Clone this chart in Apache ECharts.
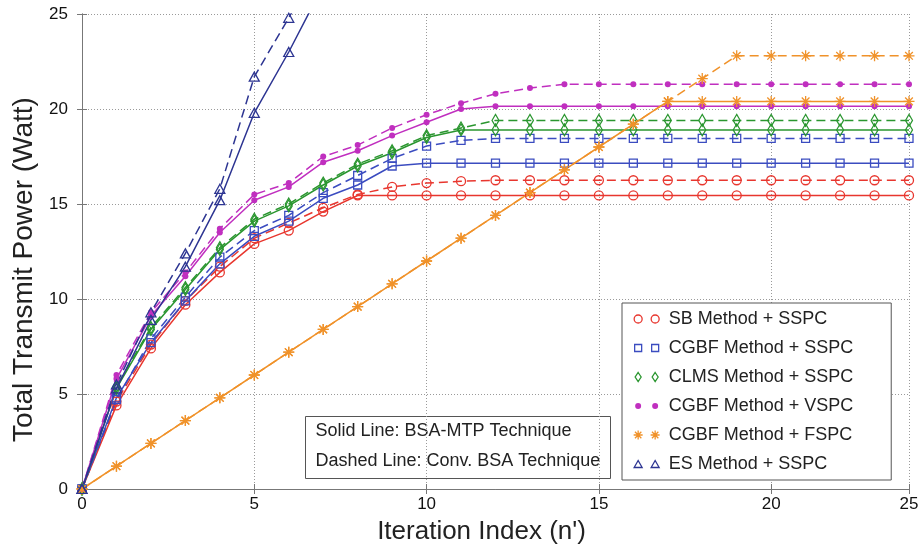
<!DOCTYPE html>
<html lang="en">
<head>
<meta charset="UTF-8" />
<title>Total Transmit Power vs Iteration</title>
</head>
<body>
<style>
* {
  margin: 0;
  padding: 0;
}
#chartEl {
  width: 924px;
  height: 556px;
  background-color: #fff;
}
</style>
<div id="chartEl"></div>
<script src="https://cdn.jsdelivr.net/npm/echarts@6/dist/echarts.min.js"></script>
<script>
// iteration index n'
const iterations = [0, 1, 2, 3, 4, 5, 6, 7, 8, 9, 10, 11, 12, 13, 14, 15, 16, 17, 18, 19, 20, 21, 22, 23, 24];

// solid = BSA-MTP technique, dashed = conventional BSA
const sbSolid = [0, 4.4, 7.4, 9.7, 11.4, 12.9, 13.6, 14.6, 15.45, 15.45, 15.45, 15.45, 15.45, 15.45, 15.45, 15.45, 15.45, 15.45, 15.45, 15.45, 15.45, 15.45, 15.45, 15.45, 15.45];
const sbDashed = [0, 4.6, 7.6, 9.9, 11.7, 13.2, 14.0, 14.8, 15.5, 15.9, 16.1, 16.2, 16.25, 16.25, 16.25, 16.25, 16.25, 16.25, 16.25, 16.25, 16.25, 16.25, 16.25, 16.25, 16.25];
const cgbfSolid = [0, 4.8, 7.7, 9.9, 11.85, 13.3, 14.1, 15.3, 16.0, 17.0, 17.15, 17.15, 17.15, 17.15, 17.15, 17.15, 17.15, 17.15, 17.15, 17.15, 17.15, 17.15, 17.15, 17.15, 17.15];
const cgbfDashed = [0, 4.7, 7.9, 10.1, 12.2, 13.6, 14.4, 15.6, 16.5, 17.4, 18.05, 18.35, 18.45, 18.45, 18.45, 18.45, 18.45, 18.45, 18.45, 18.45, 18.45, 18.45, 18.45, 18.45, 18.45];
const clmsSolid = [0, 5.3, 8.4, 10.5, 12.6, 14.1, 14.9, 16.0, 17.0, 17.7, 18.5, 18.9, 18.9, 18.9, 18.9, 18.9, 18.9, 18.9, 18.9, 18.9, 18.9, 18.9, 18.9, 18.9, 18.9];
const clmsDashed = [0, 5.4, 8.5, 10.6, 12.7, 14.2, 15.0, 16.1, 17.1, 17.8, 18.6, 19.0, 19.4, 19.4, 19.4, 19.4, 19.4, 19.4, 19.4, 19.4, 19.4, 19.4, 19.4, 19.4, 19.4];
const vspcSolid = [0, 5.8, 9.1, 11.2, 13.5, 15.2, 15.9, 17.2, 17.8, 18.6, 19.3, 20.0, 20.15, 20.15, 20.15, 20.15, 20.15, 20.15, 20.15, 20.15, 20.15, 20.15, 20.15, 20.15, 20.15];
const vspcDashed = [0, 6.0, 9.3, 11.4, 13.7, 15.5, 16.1, 17.5, 18.1, 19.0, 19.7, 20.3, 20.8, 21.1, 21.3, 21.3, 21.3, 21.3, 21.3, 21.3, 21.3, 21.3, 21.3, 21.3, 21.3];
const fspcSolid = [0, 1.2, 2.4, 3.6, 4.8, 6.0, 7.2, 8.4, 9.6, 10.8, 12.0, 13.2, 14.4, 15.6, 16.8, 18.0, 19.2, 20.4, 20.4, 20.4, 20.4, 20.4, 20.4, 20.4, 20.4];
const fspcDashed = [0, 1.2, 2.4, 3.6, 4.8, 6.0, 7.2, 8.4, 9.6, 10.8, 12.0, 13.2, 14.4, 15.6, 16.8, 18.0, 19.2, 20.4, 21.6, 22.8, 22.8, 22.8, 22.8, 22.8, 22.8];
const esSolid = [0, 5.3, 8.9, 11.7, 15.2, 19.8, 23.0, 26.5];
const esDashed = [0, 5.5, 9.3, 12.4, 15.8, 21.7, 24.8, 28.0];

const xTicks = [0, 5, 10, 15, 20, 25];
const yTicks = [0, 5, 10, 15, 20, 25];

const notes = ['Solid Line: BSA-MTP Technique', 'Dashed Line: Conv. BSA Technique'];

const FONT = '"Liberation Sans", Arial, sans-serif';
const STAR = 'path://M5 0L5 10M0 5L10 5M1.5 1.5L8.5 8.5M1.5 8.5L8.5 1.5';
const FRAME = 'M0 0M26 9';

const methods = [
  {
    name: 'SB Method + SSPC', color: '#e8362e', solid: sbSolid, dashed: sbDashed,
    symbol: 'circle', size: 9, hollow: true,
    icon: 'path://' + FRAME + 'M0.5 4.5A4 4 0 1 0 8.5 4.5A4 4 0 1 0 0.5 4.5ZM17.5 4.5A4 4 0 1 0 25.5 4.5A4 4 0 1 0 17.5 4.5Z'
  },
  {
    name: 'CGBF Method + SSPC', color: '#3b4cc0', solid: cgbfSolid, dashed: cgbfDashed,
    symbol: 'rect', size: 8, hollow: true,
    icon: 'path://' + FRAME + 'M1 1L8 1L8 8L1 8ZM18 1L25 1L25 8L18 8Z'
  },
  {
    name: 'CLMS Method + SSPC', color: '#2a962f', solid: clmsSolid, dashed: clmsDashed,
    symbol: 'diamond', size: [7, 12], hollow: true,
    icon: 'path://' + FRAME + 'M4.5 0L7.5 4.5L4.5 9L1.5 4.5ZM21.5 0L24.5 4.5L21.5 9L18.5 4.5Z'
  },
  {
    name: 'CGBF Method + VSPC', color: '#c02fbf', solid: vspcSolid, dashed: vspcDashed,
    symbol: 'circle', size: 6, hollow: false,
    icon: 'path://' + FRAME + 'M1.5 4.5A3 3 0 1 0 7.5 4.5A3 3 0 1 0 1.5 4.5ZM18.5 4.5A3 3 0 1 0 24.5 4.5A3 3 0 1 0 18.5 4.5Z'
  },
  {
    name: 'CGBF Method + FSPC', color: '#f0922a', solid: fspcSolid, dashed: fspcDashed,
    symbol: STAR, size: 11, hollow: true,
    icon: 'path://' + FRAME + 'M4.5 0L4.5 9M0 4.5L9 4.5M1.3 1.3L7.7 7.7M1.3 7.7L7.7 1.3M21.5 0L21.5 9M17 4.5L26 4.5M18.3 1.3L24.7 7.7M18.3 7.7L24.7 1.3'
  },
  {
    name: 'ES Method + SSPC', color: '#2d3592', solid: esSolid, dashed: esDashed,
    symbol: 'triangle', size: [10, 9], hollow: true,
    icon: 'path://' + FRAME + 'M4.5 1L8.5 8L0.5 8ZM21.5 1L25.5 8L17.5 8Z'
  }
];

function toPoints(values) {
  return values.map(function (v, i) {
    return [iterations[i], v];
  });
}

const series = [];
methods.forEach(function (m) {
  [['solid', m.solid], [[9, 5], m.dashed]].forEach(function (pair) {
    series.push({
      type: 'line',
      name: m.name,
      data: toPoints(pair[1]),
      symbol: m.symbol,
      symbolSize: m.size,
      clip: true,
      lineStyle: { color: m.color, width: 1.5, type: pair[0] },
      itemStyle: m.hollow
        ? { color: 'rgba(0,0,0,0)', borderColor: m.color, borderWidth: 1.3 }
        : { color: m.color, borderWidth: 0 },
      emphasis: { disabled: true },
      animation: false
    });
  });
});

const chart = echarts.init(document.getElementById('chartEl'));

const axisCommon = {
  type: 'value',
  axisLine: { show: true, lineStyle: { color: '#777', width: 1 } },
  axisTick: { show: true, inside: true, length: 5, lineStyle: { color: '#777' } }
};

chart.setOption({
  backgroundColor: '#fff',
  animation: false,
  textStyle: { fontFamily: FONT },
  grid: { left: 82, right: 15, top: 14, bottom: 67, containLabel: false },
  xAxis: [
    Object.assign({}, axisCommon, {
      position: 'bottom',
      min: xTicks[0],
      max: iterations[iterations.length - 1],
      interval: 5,
      name: "Iteration Index (n')",
      nameLocation: 'middle',
      nameGap: 30,
      nameTextStyle: { fontSize: 26, color: '#222', fontFamily: FONT, padding: [0, 28, 0, 0] },
      axisLabel: {
        margin: 7,
        fontSize: 17,
        color: '#111',
        fontFamily: FONT,
        formatter: function (v) {
          return v === iterations[iterations.length - 1] ? String(xTicks[xTicks.length - 1]) : String(v);
        }
      },
      splitLine: { show: true, lineStyle: { color: '#9a9a9a', type: [1, 2], width: 1 } }
    }),
    Object.assign({}, axisCommon, {
      position: 'top',
      min: xTicks[0],
      max: iterations[iterations.length - 1],
      interval: 5,
      axisLabel: { show: false },
      splitLine: { show: false }
    })
  ],
  yAxis: [
    Object.assign({}, axisCommon, {
      position: 'left',
      min: yTicks[0],
      max: yTicks[yTicks.length - 1],
      interval: 5,
      name: 'Total Transmit Power (Watt)',
      nameLocation: 'middle',
      nameGap: 42,
      nameTextStyle: { fontSize: 28, color: '#222', fontFamily: FONT, padding: [0, 36, 0, 0] },
      axisLabel: { margin: 14, fontSize: 17, color: '#111', fontFamily: FONT },
      splitLine: { show: true, lineStyle: { color: '#9a9a9a', type: [1, 2], width: 1 } }
    }),
    Object.assign({}, axisCommon, {
      position: 'right',
      min: yTicks[0],
      max: yTicks[yTicks.length - 1],
      interval: 5,
      axisLabel: { show: false },
      splitLine: { show: false }
    })
  ],
  legend: {
    orient: 'vertical',
    left: 622,
    top: 303,
    padding: [7, 38, 7, 11],
    itemWidth: 26,
    itemHeight: 9,
    itemGap: 11,
    selectedMode: false,
    backgroundColor: '#fff',
    borderColor: '#555',
    borderWidth: 1,
    borderRadius: 0,
    textStyle: { fontSize: 18, lineHeight: 18, color: '#222', fontFamily: FONT, padding: [0, 0, 0, 4] },
    data: methods.map(function (m) {
      return {
        name: m.name,
        icon: m.icon,
        itemStyle: m.hollow
          ? { color: 'rgba(0,0,0,0)', borderColor: m.color, borderWidth: 1.3 }
          : { color: m.color, borderWidth: 0 }
      };
    })
  },
  graphic: [
    {
      type: 'group',
      left: 305,
      top: 416,
      z: 100,
      children: [
        {
          type: 'rect',
          shape: { x: 0, y: 0, width: 305, height: 62 },
          style: { fill: '#fff', stroke: '#555', lineWidth: 1 }
        },
        {
          type: 'text',
          x: 10,
          y: 15,
          style: { text: notes[0], font: '18px ' + FONT, fill: '#222', verticalAlign: 'middle' }
        },
        {
          type: 'text',
          x: 10,
          y: 45,
          style: { text: notes[1], font: '18px ' + FONT, fill: '#222', verticalAlign: 'middle' }
        }
      ]
    }
  ],
  series: series
});
</script>
</body>
</html>
